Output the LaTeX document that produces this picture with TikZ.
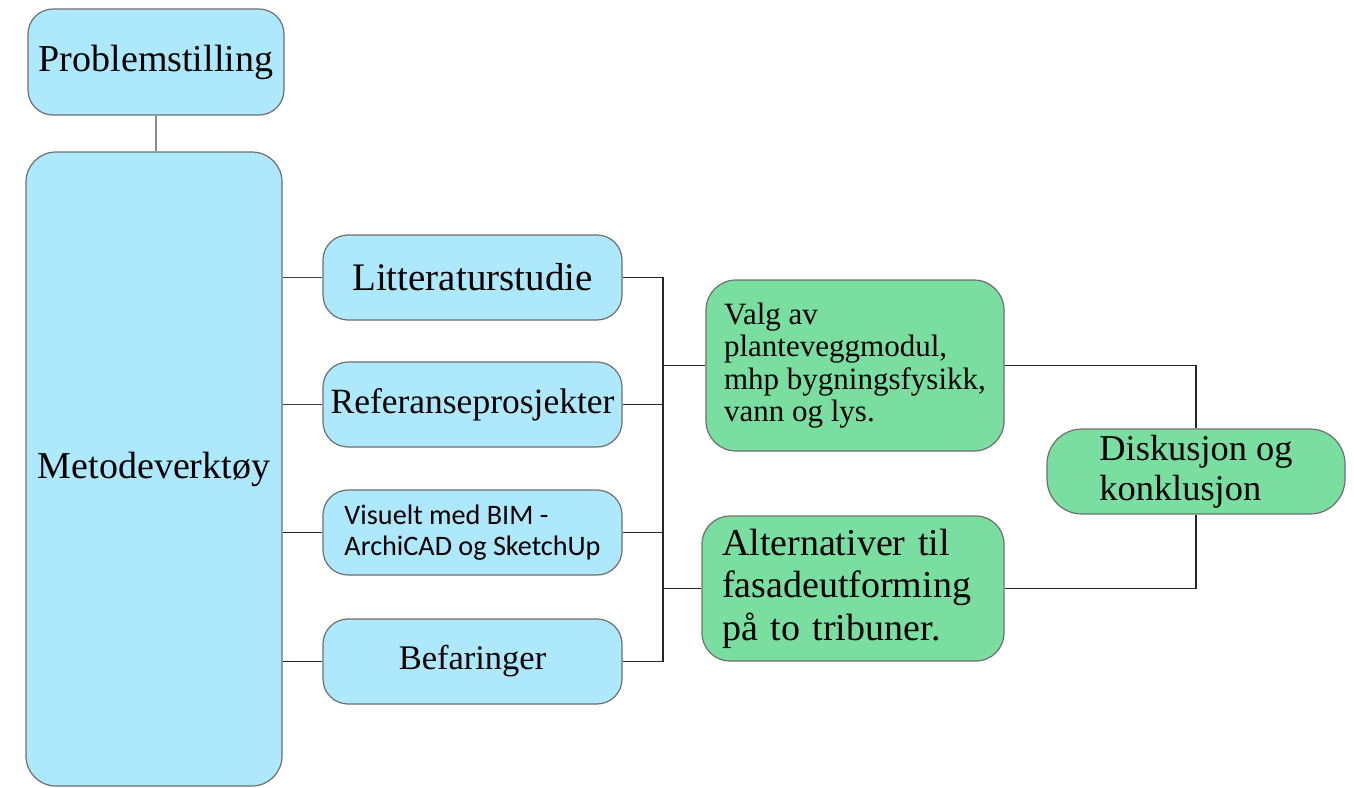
\documentclass[tikz,border=0pt]{standalone}
\usepackage{fontspec}
\setmainfont{Liberation Serif}
\newfontfamily\carl{Carlito}
\definecolor{boxblue}{HTML}{AEE8FD}
\definecolor{boxgreen}{HTML}{79DEA0}
\definecolor{edgegray}{HTML}{6E6E6E}
\tikzset{
  bx/.style={draw=edgegray, line width=1.2pt, rounded corners=25pt, inner sep=0pt, text=black},
  bluebox/.style={bx, fill=boxblue},
  greenbox/.style={bx, fill=boxgreen},
  conn/.style={draw=black!85, line width=1.2pt},
  connL/.style={draw=black!75, line width=1.2pt},
  conng/.style={draw=black!45, line width=1.4pt},
}
\newcommand{\fs}[2]{\fontsize{#1pt}{#2pt}\selectfont}
\begin{document}
\begin{tikzpicture}[x=1pt,y=-1pt]
\useasboundingbox (0,0) rectangle (1354,787);
% nodes
\node[bluebox, minimum width=256pt, minimum height=106pt, font=\fs{38}{44}] (prob) at (156,62) {Problemstilling};
\node[bluebox, minimum width=256pt, minimum height=634pt, rounded corners=30pt, font=\fs{38}{44}] (meto) at (154,469) {Metodeverktøy};
\node[bluebox, minimum width=299pt, minimum height=85pt, font=\fs{39}{44}] (lit) at (472.5,277.5) {Litteraturstudie};
\node[bluebox, minimum width=299pt, minimum height=85pt, font=\fs{35.5}{40}] (ref) at (472.5,404.5) {Referanseprosjekter};
\node[bluebox, minimum width=299pt, minimum height=85pt, align=left, font=\carl\fs{28.2}{31}] (vis) at (472.5,532.5) {Visuelt med BIM -\\ArchiCAD og SketchUp};
\node[bluebox, minimum width=299pt, minimum height=85pt, font=\fs{34.5}{40}] (bef) at (472.5,661.5) {Befaringer};
\node[greenbox, minimum width=298pt, minimum height=171pt, rounded corners=30pt, align=left, font=\fs{31}{32.5}] (valg) at (855,365.5) {Valg av\\planteveggmodul,\\mhp bygningsfysikk,\\vann og lys.};
\node[greenbox, minimum width=302pt, minimum height=145pt, rounded corners=28pt, align=left, text width=262pt, font=\fs{38}{42.5}] (alt) at (853,588.5) {Alternativer til\\fasadeutforming\\på to tribuner.};
\node[greenbox, minimum width=298pt, minimum height=85pt, rounded corners=35pt, align=left, font=\fs{36.4}{40}] (disk) at (1196,471.5) {Diskusjon og\\konklusjon};
\coordinate (busx) at (663,0);
% connectors
\draw[conng] (prob.south) -- (prob.south |- meto.north);
\draw[connL] (lit.west -| meto.east) -- (lit.west);
\draw[connL] (ref.west -| meto.east) -- (ref.west);
\draw[conn] (vis.west -| meto.east) -- (vis.west);
\draw[conn] (bef.west -| meto.east) -- (bef.west);
\draw[conn] (lit.east) -- (lit.east -| busx) -- (bef.east -| busx) -- (bef.east);
\draw[conn] (ref.east) -- (ref.east -| busx);
\draw[conn] (vis.east) -- (vis.east -| busx);
\draw[conn] (valg.west -| busx) -- (valg.west);
\draw[conn] (alt.west -| busx) -- (alt.west);
\draw[conn] (valg.east) -- (valg.east -| disk.north) -- (disk.north);
\draw[conn] (disk.south) -- (disk.south |- alt.east) -- (alt.east);
\end{tikzpicture}
\end{document}
